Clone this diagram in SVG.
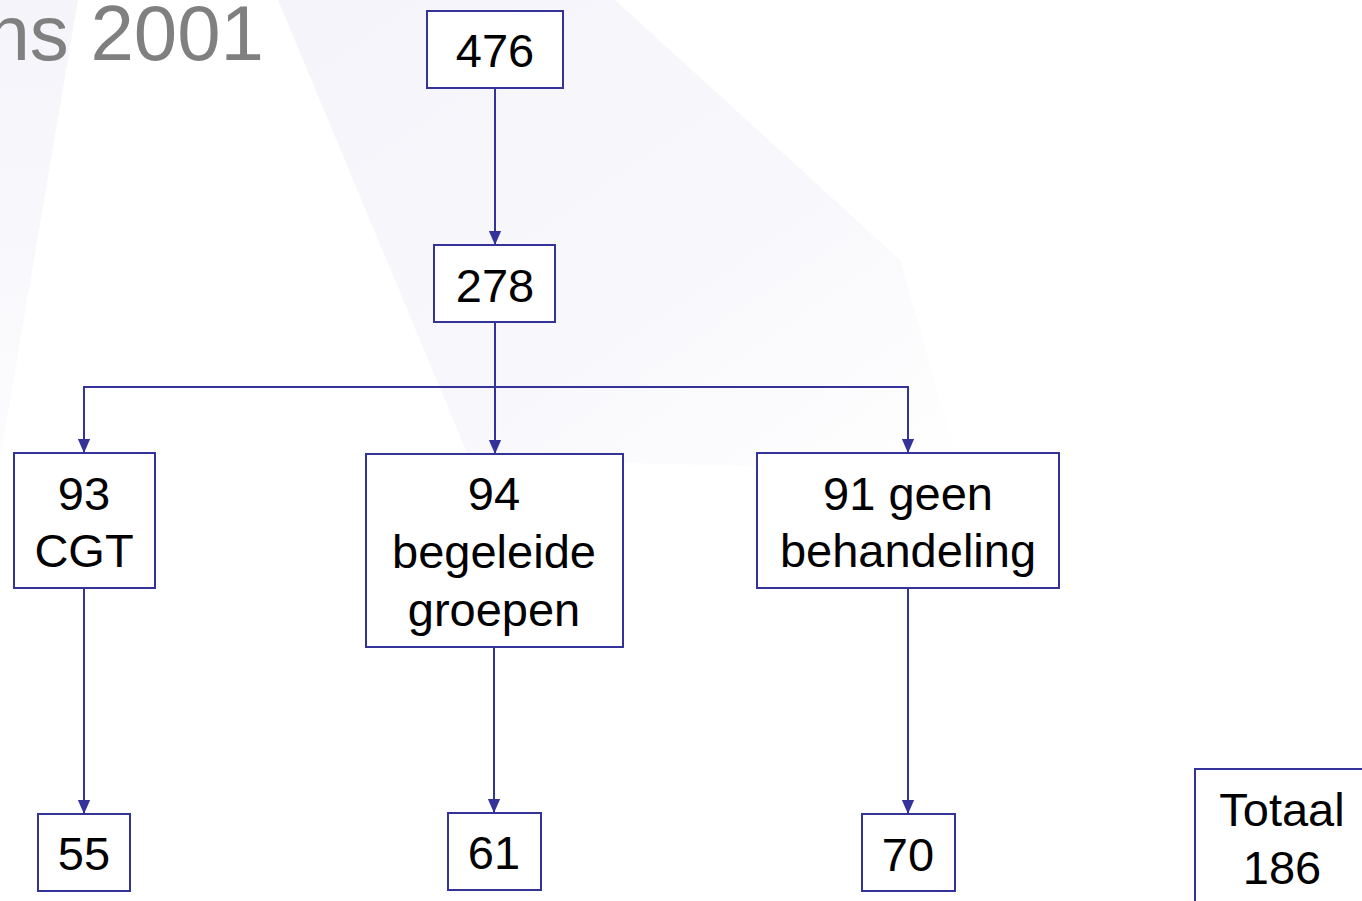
<svg xmlns="http://www.w3.org/2000/svg" width="1362" height="901" viewBox="0 0 1362 901">
  <defs>
    <style>
      .box { fill: #ffffff; stroke: #333399; stroke-width: 2; }
      .lbl { font-family: "Liberation Sans", Arial, sans-serif; font-size: 47px; fill: #000000; text-anchor: middle; }
      .conn { fill: none; stroke: #333399; stroke-width: 2; }
    </style>
    <marker id="ah" markerWidth="14" markerHeight="16" refX="16" refY="7" orient="auto" markerUnits="userSpaceOnUse" viewBox="0 0 16 14">
      <path d="M0,0 L16,7 L0,14 Z" fill="#333399"/>
    </marker>
    <linearGradient id="bg1" x1="0" y1="0" x2="0" y2="1">
      <stop offset="0" stop-color="#f4f4fa"/>
      <stop offset="1" stop-color="#fcfcfe"/>
    </linearGradient>
    <linearGradient id="bg2" x1="0" y1="0" x2="1" y2="1">
      <stop offset="0" stop-color="#f4f4fa"/>
      <stop offset="0.6" stop-color="#f8f8fc"/>
      <stop offset="1" stop-color="#ffffff"/>
    </linearGradient>
  </defs>
  <rect width="1362" height="901" fill="#ffffff"/>
  <g id="background">
    <polygon points="0,0 78,0 0,460" fill="url(#bg1)"/>
    <polygon points="278,0 615,0 900,260 960,470 470,460" fill="url(#bg2)"/>
  </g>
  <text x="264" y="60" font-family="Liberation Sans, Arial, sans-serif" font-size="78" fill="#808080" text-anchor="end">ns 2001</text>

  <g id="connectors">
    <line class="conn" x1="495" y1="88" x2="495" y2="245" marker-end="url(#ah)"/>
    <line class="conn" x1="495" y1="322" x2="495" y2="454" marker-end="url(#ah)"/>
    <polyline class="conn" points="84,453 84,387 908,387 908,453" stroke-width="3" marker-end="url(#ah)"/>
    <line class="conn" x1="84" y1="387" x2="84" y2="453" marker-end="url(#ah)"/>
    <line class="conn" x1="84" y1="588" x2="84" y2="814" marker-end="url(#ah)"/>
    <line class="conn" x1="494" y1="647" x2="494" y2="813" marker-end="url(#ah)"/>
    <line class="conn" x1="908" y1="588" x2="908" y2="814" marker-end="url(#ah)"/>
  </g>

  <g id="n476">
    <rect class="box" x="427" y="11" width="136" height="77"/>
    <text class="lbl" x="495" y="67">476</text>
  </g>
  <g id="n278">
    <rect class="box" x="434" y="245" width="121" height="77"/>
    <text class="lbl" x="495" y="302">278</text>
  </g>
  <g id="n93">
    <rect class="box" x="14" y="453" width="141" height="135"/>
    <text class="lbl" x="84" y="510">93</text>
    <text class="lbl" x="84" y="567">CGT</text>
  </g>
  <g id="n94">
    <rect class="box" x="366" y="454" width="257" height="193"/>
    <text class="lbl" x="494" y="510">94</text>
    <text class="lbl" x="494" y="568">begeleide</text>
    <text class="lbl" x="494" y="626">groepen</text>
  </g>
  <g id="n91">
    <rect class="box" x="757" y="453" width="302" height="135"/>
    <text class="lbl" x="908" y="510">91 geen</text>
    <text class="lbl" x="908" y="567">behandeling</text>
  </g>
  <g id="n55">
    <rect class="box" x="38" y="814" width="92" height="77"/>
    <text class="lbl" x="84" y="870">55</text>
  </g>
  <g id="n61">
    <rect class="box" x="448" y="813" width="93" height="77"/>
    <text class="lbl" x="494" y="869">61</text>
  </g>
  <g id="n70">
    <rect class="box" x="862" y="814" width="93" height="77"/>
    <text class="lbl" x="908" y="871">70</text>
  </g>
  <g id="totaal">
    <rect class="box" x="1195" y="769" width="200" height="160"/>
    <text class="lbl" x="1282" y="826">Totaal</text>
    <text class="lbl" x="1282" y="884">186</text>
  </g>
</svg>
